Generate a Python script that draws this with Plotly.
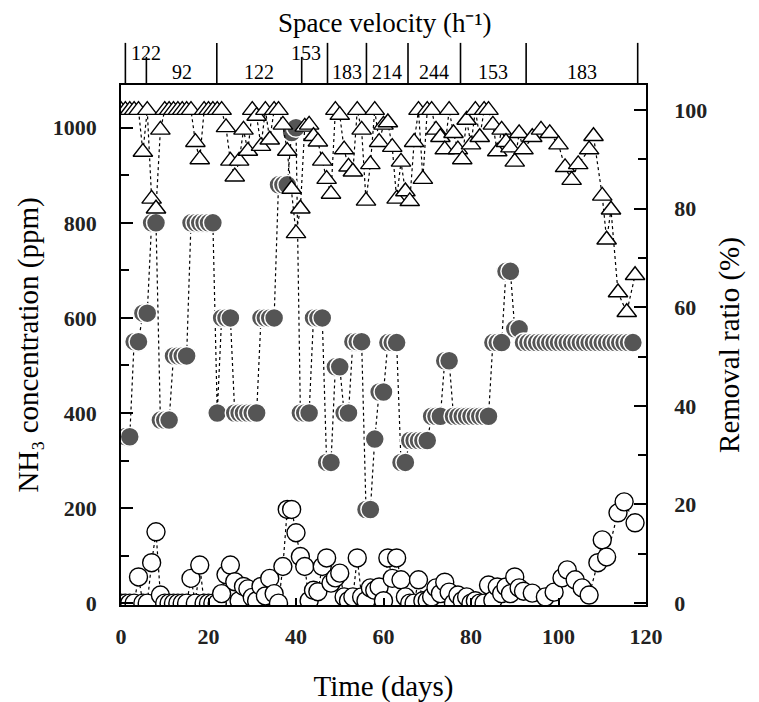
import plotly.graph_objects as go

# ---------------- data ----------------
inlet_day = [0, 1, 2, 3, 4, 5, 6, 7, 8, 9, 10, 11, 12, 13, 14, 15, 16, 17, 18, 19,
             20, 21, 22, 23, 24, 25, 26, 27, 28, 29, 30, 31, 32, 33, 34, 35, 36, 37, 38, 39,
             40, 41, 42, 43, 44, 45, 46, 47, 48, 49, 50, 51, 52, 53, 54, 55, 56, 57, 58, 59,
             60, 61, 62, 63, 64, 65, 66, 67, 68, 69, 70, 71, 72, 73, 74, 75, 76, 77, 78, 79,
             80, 81, 82, 83, 84, 85, 86, 87, 88, 89, 90, 91, 92, 93, 94, 95, 96, 97, 98, 99,
             100, 101, 102, 103, 104, 105, 106, 107, 108, 109, 110, 111, 112, 113, 114, 115, 116, 117]
inlet_ppm = [350, 350, 350, 550, 550, 610, 610, 800, 800, 385, 385, 385, 520, 520, 520, 520, 800, 800, 800, 800,
             800, 800, 400, 600, 600, 600, 400, 400, 400, 400, 400, 400, 600, 600, 600, 600, 880, 880, 880, 990,
             1000, 400, 400, 400, 600, 600, 600, 296, 296, 497, 497, 400, 400, 550, 550, 550, 197, 197, 345, 444,
             444, 548, 548, 548, 296, 296, 342, 342, 342, 342, 342, 393, 393, 393, 510, 510, 393, 393, 393, 393,
             393, 393, 393, 393, 393, 548, 548, 548, 698, 698, 577, 577, 548, 548, 548, 548, 548, 548, 548, 548,
             548, 548, 548, 548, 548, 548, 548, 548, 548, 548, 548, 548, 548, 548, 548, 548, 548, 548]

outlet_day = [0, 1, 2, 3, 4, 5, 6, 7, 8, 9, 10, 11, 12, 13, 14, 15, 16, 17, 18, 19,
              20, 21, 22, 23, 24, 25, 26, 27, 28, 29, 30, 31, 32, 33, 34, 35, 36, 37, 38, 39,
              40, 41, 42, 43, 44, 45, 46, 47, 48, 49, 50, 51, 52, 53, 54, 55, 56, 57, 58, 59,
              60, 61, 62, 63, 64, 65, 66, 67, 68, 69, 70, 71, 72, 73, 74, 75, 76, 77, 78, 79,
              80, 81, 82, 83, 84, 85, 86, 87, 88, 89, 90, 91, 92, 94, 97, 99, 100.8, 102, 103.8, 105.4,
              107, 109, 110, 111, 113.6, 115, 117.5]
outlet_ppm = [0, 0, 0, 0, 55, 0, 0, 85, 150, 17, 0, 0, 0, 0, 0, 0, 52, 0, 80, 0,
              0, 0, 0, 20, 60, 80, 45, 5, 35, 30, 12, 5, 35, 15, 52, 20, 0, 77, 197, 197,
              148, 98, 77, 5, 27, 24, 77, 95, 42, 53, 63, 13, 5, 13, 95, 13, 5, 32, 27, 34,
              5, 95, 52, 95, 49, 13, 0, 0, 49, 5, 5, 13, 32, 20, 44, 23, 0, 17, 5, 13,
              0, 5, 0, 0, 38, 6, 34, 20, 34, 20, 55, 32, 25, 21, 13, 23, 53, 70, 49, 32,
              17, 85, 133, 97, 190, 213, 169]

removal_day = [0, 1, 2, 3, 4, 5, 6, 7, 8, 9, 10, 11, 12, 13, 14, 15, 16, 17, 18, 19,
               20, 21, 22, 23, 24, 25, 26, 27, 28, 29, 30, 31, 32, 33, 34, 35, 36, 37, 38, 39,
               40, 41, 42, 43, 44, 45, 46, 47, 48, 49, 50, 51, 52, 53, 54, 55, 56, 57, 58, 59,
               60, 61, 62, 63, 64, 65, 66, 67, 68, 69, 70, 71, 72, 73, 74, 75, 76, 77, 78, 79,
               80, 81, 82, 83, 84, 85, 86, 87, 88, 89, 90, 91, 92, 94, 96, 98, 100, 101.5, 103, 104.5,
               107, 108, 110, 111, 112, 113.6, 115.6, 117.5]
removal_pct = [100, 100, 100, 100, 100, 91.5, 100, 82, 80, 96, 100, 100, 100, 100, 100, 100, 100, 93.5, 90, 100,
               100, 100, 100, 100, 96.5, 89.7, 86.5, 89.7, 96, 91.7, 100, 98.8, 92.7, 100, 94, 100, 100, 97, 91.7, 84,
               75, 80, 96.6, 97, 94.7, 93.6, 89.7, 86, 83, 100, 99, 92, 88.5, 87.5, 100, 96, 81.6, 89, 100, 93.5,
               97, 97.5, 92.5, 82, 89.5, 83.5, 81.5, 93.5, 100, 86, 100, 100, 96, 94.5, 92, 100, 95.3, 92, 90, 98,
               93, 100, 94.5, 100, 100, 97, 91.6, 96, 93.5, 92.4, 89.5, 95.3, 92, 94.5, 96, 95.3, 93, 88.4, 85.8, 89,
               92, 94.7, 82.6, 73.7, 79.8, 63, 59, 66.5]

x_ticks = [0, 20, 40, 60, 80, 100, 120]
left_ticks = [0, 200, 400, 600, 800, 1000]
right_ticks = [0, 20, 40, 60, 80, 100]

# space velocity periods (h^-1): boundaries in days and labels
sv_bounds = [1.0, 5.8, 21.9, 41.3, 47.2, 56.1, 65.6, 77.6, 92.6, 118.1]
sv_labels = ["122", "92", "122", "153", "183", "214", "244", "153", "183"]

# ---------------- figure ----------------
SERIF = "Liberation Serif"
dot_line = dict(color="black", width=1.2, dash="dot")

fig = go.Figure()

fig.add_trace(go.Scatter(
    x=removal_day, y=removal_pct, yaxis="y2", mode="lines+markers",
    line=dot_line, name="Removal ratio",
    marker=dict(symbol="triangle-up", size=17, color="white",
                line=dict(color="black", width=1.4)),
))
fig.add_trace(go.Scatter(
    x=outlet_day, y=outlet_ppm, mode="lines+markers",
    line=dot_line, name="Outlet NH3",
    marker=dict(symbol="circle", size=18, color="white",
                line=dict(color="black", width=1.4)),
))
fig.add_trace(go.Scatter(
    x=inlet_day, y=inlet_ppm, mode="lines+markers",
    line=dot_line, name="Inlet NH3",
    marker=dict(symbol="circle", size=19, color="#555555",
                line=dict(color="white", width=1.5)),
))

shapes = []
annotations = []
short_div = {1, 3}
for i, b in enumerate(sv_bounds):
    top = 1.054 if i in short_div else 1.081
    shapes.append(dict(type="line", xref="x", yref="paper", x0=b, x1=b, y0=1.0, y1=top,
                       line=dict(color="black", width=1.6)))
label_shift = [10, 0, 0, -9, 0, 0, 0, 0, 0]
for i, lab in enumerate(sv_labels):
    a, b = sv_bounds[i], sv_bounds[i + 1]
    raised = (b - a) < 7
    annotations.append(dict(
        x=(a + b) / 2, xref="x", y=1.061 if raised else 1.025, yref="paper",
        text=lab, showarrow=False, xshift=label_shift[i],
        font=dict(family=SERIF, size=20, color="black"),
        xanchor="center", yanchor="middle", borderpad=0))
annotations.append(dict(
    x=0.503, xref="paper", y=1.12, yref="paper", text="Space velocity (h\u207b\u00b9)",
    showarrow=False, font=dict(family=SERIF, size=27, color="black"),
    xanchor="center", yanchor="middle", borderpad=0))

fig.update_layout(
    width=759, height=702,
    margin=dict(l=113, r=121, t=77, b=105),
    paper_bgcolor="white", plot_bgcolor="white",
    showlegend=False,
    shapes=shapes, annotations=annotations,
    xaxis=dict(
        range=[0, 120], tickvals=x_ticks, ticktext=[str(v) for v in x_ticks],
        showline=True, linecolor="black", linewidth=1.8, mirror=True,
        ticks="inside", ticklen=7, tickwidth=1.5, tickcolor="black",
        ticklabelstandoff=11,
        showgrid=False, zeroline=False,
        tickfont=dict(family=SERIF, size=22, color="#222222", weight="bold"),
        title=dict(text="Time (days)", font=dict(family=SERIF, size=29, color="black"), standoff=27),
    ),
    yaxis=dict(
        range=[-4, 1090], tickvals=left_ticks,
        showline=True, linecolor="black", linewidth=1.8,
        ticks="inside", ticklen=12, tickwidth=1.5, tickcolor="black",
        minor=dict(dtick=100, tick0=0, ticks="inside", ticklen=8, tickwidth=1.5, tickcolor="black"),
        ticklabelstandoff=18,
        showgrid=False, zeroline=False,
        tickfont=dict(family=SERIF, size=22, color="#222222", weight="bold"),
        title=dict(text="NH\u2083 concentration (ppm)",
                   font=dict(family=SERIF, size=29, color="black"), standoff=6),
    ),
    yaxis2=dict(
        range=[-0.4, 105.1], tickvals=right_ticks, overlaying="y", side="right",
        showline=True, linecolor="black", linewidth=1.8,
        ticks="inside", ticklen=12, tickwidth=1.5, tickcolor="black",
        minor=dict(dtick=10, tick0=0, ticks="inside", ticklen=8, tickwidth=1.5, tickcolor="black"),
        ticklabelstandoff=22,
        showgrid=False, zeroline=False,
        tickfont=dict(family=SERIF, size=22, color="#222222", weight="bold"),
        title=dict(text="Removal ratio (%)", font=dict(family=SERIF, size=29, color="black"), standoff=12),
    ),
)

fig.write_html("out.html")
